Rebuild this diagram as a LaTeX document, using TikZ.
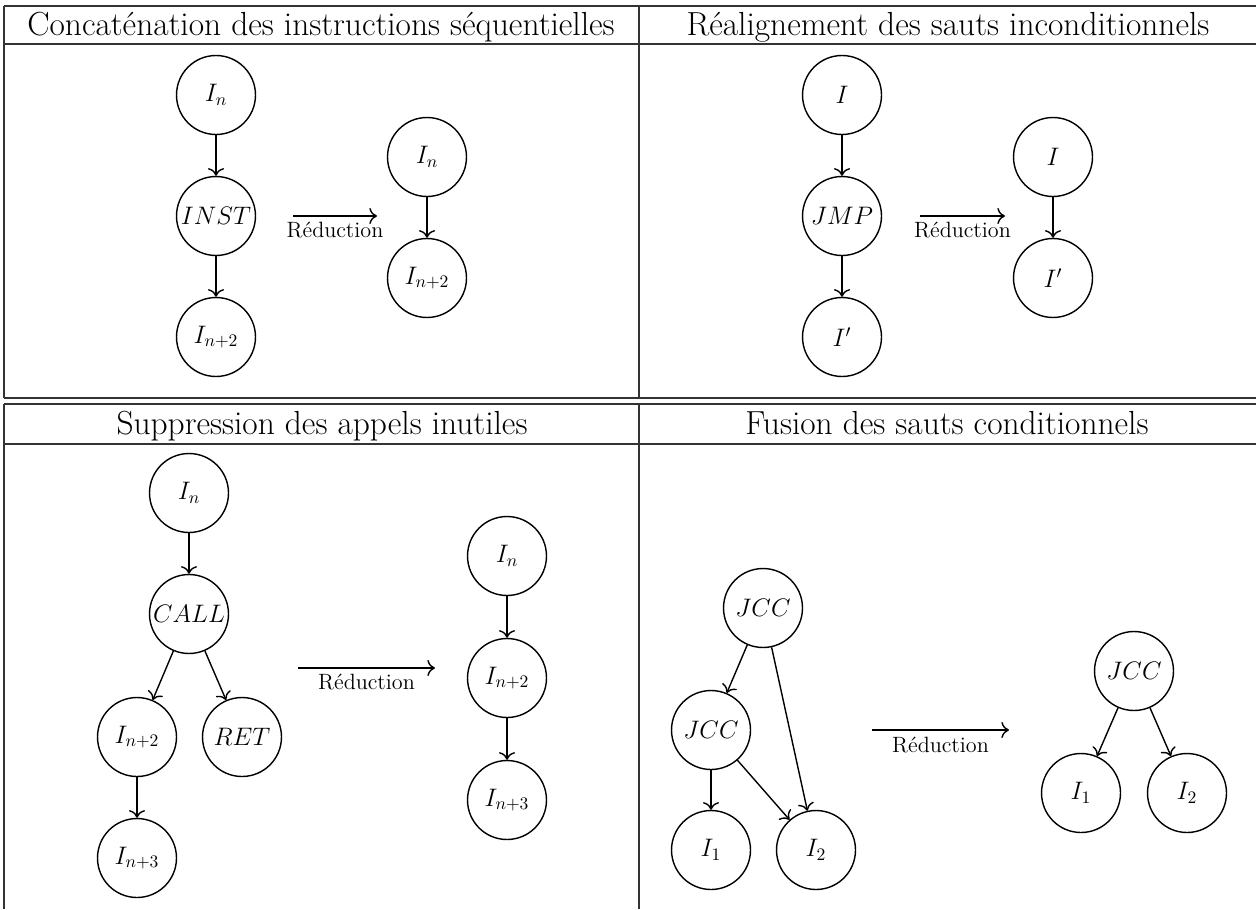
\documentclass[tikz,border=0pt]{standalone}
\usepackage{tikz}
\usepackage{amsmath,amssymb}
\usetikzlibrary{arrows.meta,positioning}

\begin{document}
\begin{tikzpicture}[x=0.02cm,y=-0.02cm]
    % Define styles
    \tikzstyle{instr}=[circle,draw,line width=0.8pt,minimum size=1.58cm,inner sep=0pt,font=\fontsize{14.4}{17}\selectfont]
    \tikzstyle{titre}=[anchor=base,font=\fontsize{19}{23}\selectfont]
    \tikzstyle{fleche}=[-{To[scale=1.3]},line width=0.8pt]
    \tikzstyle{regle}=[line width=0.8pt,black!80]
    \tikzstyle{reduc}=[below,font=\fontsize{12.6}{15}\selectfont]

    \useasboundingbox (0,0) rectangle (1256,909);

    % Table
    \foreach \y in {6,44,398,404,444} {
        \draw[regle] (4,\y) -- (1256,\y);
    }
    \foreach \x in {4,639} {
        \draw[regle] (\x,6) -- (\x,398);
        \draw[regle] (\x,404) -- (\x,909);
    }

    % Titles
    \node[titre] (t1) at (321,36) {Concaténation des instructions séquentielles};
    \node[titre] (t2) at (948,36) {Réalignement des sauts inconditionnels};
    \node[titre] (t3) at (322,434) {Suppression des appels inutiles};
    \node[titre] (t4) at (947,434) {Fusion des sauts conditionnels};

    % Concatenation
    \node[instr] (c1) at (216,95) {$I_n$};
    \node[instr] (c2) at (216,216) {$INST$};
    \node[instr] (c3) at (216,337) {$I_{n+2}$};
    \node[instr] (c4) at (427,157) {$I_n$};
    \node[instr] (c5) at (427,278) {$I_{n+2}$};
    \draw[fleche] (c1) -- (c2);
    \draw[fleche] (c2) -- (c3);
    \draw[fleche] (c4) -- (c5);
    \coordinate (ca) at (293,216);
    \coordinate (cb) at (377,216);
    \draw[fleche] (ca) -- (cb) node[reduc,midway] {Réduction};

    % Realignement
    \node[instr] (j1) at (842,95) {$I$};
    \node[instr] (j2) at (842,216) {$JMP$};
    \node[instr] (j3) at (842,337) {$I'$};
    \node[instr] (j4) at (1053,157) {$I$};
    \node[instr] (j5) at (1053,278) {$I'$};
    \draw[fleche] (j1) -- (j2);
    \draw[fleche] (j2) -- (j3);
    \draw[fleche] (j4) -- (j5);
    \coordinate (ja) at (920,216);
    \coordinate (jb) at (1005,216);
    \draw[fleche] (ja) -- (jb) node[reduc,midway] {Réduction};

    % Suppression
    \node[instr] (s1) at (189,493) {$I_n$};
    \node[instr] (s2) at (189,614) {$CALL$};
    \node[instr] (s3) at (137,737) {$I_{n+2}$};
    \node[instr] (s4) at (242,737) {$RET$};
    \node[instr] (s5) at (137,858) {$I_{n+3}$};
    \node[instr] (s6) at (507,556) {$I_n$};
    \node[instr] (s7) at (507,678) {$I_{n+2}$};
    \node[instr] (s8) at (507,800) {$I_{n+3}$};
    \draw[fleche] (s1) -- (s2);
    \draw[fleche] (s2) -- (s3);
    \draw[fleche] (s2) -- (s4);
    \draw[fleche] (s3) -- (s5);
    \draw[fleche] (s6) -- (s7);
    \draw[fleche] (s7) -- (s8);
    \coordinate (sa) at (298,668);
    \coordinate (sb) at (435,668);
    \draw[fleche] (sa) -- (sb) node[reduc,midway] {Réduction};

    % Fusion
    \node[instr] (f1) at (763,608) {$JCC$};
    \node[instr] (f2) at (711,730) {$JCC$};
    \node[instr] (f3) at (711,850) {$I_1$};
    \node[instr] (f4) at (816,850) {$I_2$};
    \node[instr] (f5) at (1134,671) {$JCC$};
    \node[instr] (f6) at (1081,793) {$I_1$};
    \node[instr] (f7) at (1187,793) {$I_2$};
    \draw[fleche] (f1) -- (f2);
    \draw[fleche] (f1) -- (f4);
    \draw[fleche] (f2) -- (f3);
    \draw[fleche] (f2) -- (f4);
    \draw[fleche] (f5) -- (f6);
    \draw[fleche] (f5) -- (f7);
    \coordinate (fa) at (872,730);
    \coordinate (fb) at (1009,730);
    \draw[fleche] (fa) -- (fb) node[reduc,midway] {Réduction};
\end{tikzpicture}
\end{document}
